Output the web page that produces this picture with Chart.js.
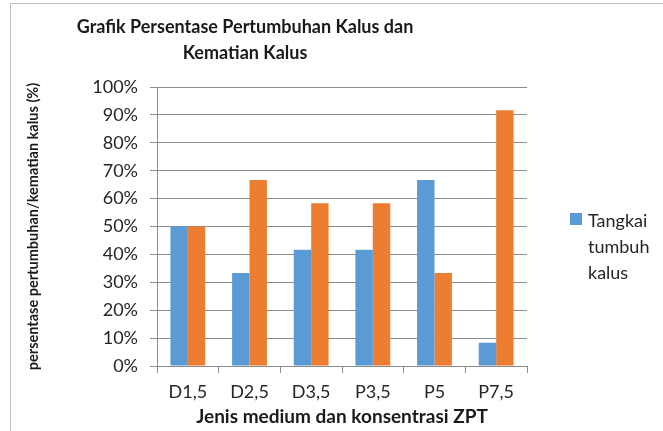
<!DOCTYPE html>
<html>
<head>
<meta charset="utf-8">
<script src="https://cdn.jsdelivr.net/npm/chart.js@4/dist/chart.umd.min.js"></script>
<style>
  html, body { margin: 0; padding: 0; background: #fff; }
  #wrap { position: relative; width: 663px; height: 431px; }
</style>
</head>
<body>
<div id="wrap"><canvas id="chart" width="663" height="431"></canvas></div>
<script>
// Data
const categories = ['D1,5', 'D2,5', 'D3,5', 'P3,5', 'P5', 'P7,5'];
const tumbuh = [50, 33.33, 41.67, 41.67, 66.67, 8.33];
const kematian = [50, 66.67, 58.33, 58.33, 33.33, 91.67];
const titleLines = ['Grafik Persentase Pertumbuhan Kalus dan', 'Kematian Kalus'];
const legendLines = ['Tangkai', 'tumbuh', 'kalus'];

const FONT = 'Lato, "Open Sans", sans-serif';
const GRID = '#8c8c8c';

// Frame, title and the (wrapped) legend entry
const decor = {
  id: 'decor',
  beforeDraw(chart) {
    const c = chart.ctx;
    c.save();
    c.strokeStyle = '#bfbfbf';
    c.lineWidth = 1;
    c.strokeRect(10.5, 3.5, 700, 500);
    c.restore();
  },
  afterDraw(chart) {
    const c = chart.ctx;
    c.save();
    c.fillStyle = '#1a1a1a';
    c.font = 'bold 18px ' + FONT;
    c.textAlign = 'center';
    c.textBaseline = 'alphabetic';
    c.fillText(titleLines[0], 245, 33);
    c.fillText(titleLines[1], 245, 59);

    // legend
    c.fillStyle = chart.data.datasets[0].backgroundColor;
    c.fillRect(570, 213, 12, 12);
    c.fillStyle = '#262626';
    c.font = '18px ' + FONT;
    c.textAlign = 'left';
    legendLines.forEach((t, i) => c.fillText(t, 588, 227 + i * 26));
    c.restore();
  }
};

new Chart(document.getElementById('chart'), {
  type: 'bar',
  data: {
    labels: categories,
    datasets: [
      { label: 'Tangkai tumbuh kalus', data: tumbuh, backgroundColor: '#5B9BD5' },
      { label: 'Kematian kalus', data: kematian, backgroundColor: '#ED7D31' }
    ]
  },
  options: {
    responsive: false,
    animation: false,
    datasets: { bar: { categoryPercentage: 0.565, barPercentage: 1 } },
    layout: { padding: { left: 25, top: 87, right: 136, bottom: 3 } },
    plugins: {
      legend: { display: false },
      title: { display: false },
      tooltip: { enabled: false }
    },
    scales: {
      x: {
        grid: { display: true, offset: true, drawOnChartArea: false, color: GRID, tickLength: 7 },
        border: { color: GRID },
        ticks: { color: '#262626', font: { family: FONT, size: 18 }, padding: 8 },
        title: { display: true, text: 'Jenis medium dan konsentrasi ZPT', color: '#1a1a1a',
                 font: { family: FONT, size: 19, weight: 'bold' }, padding: { top: 0, bottom: 0 } },
        afterFit(s) { s.height = 431 - 366 - 3; }
      },
      y: {
        min: 0, max: 100,
        grid: { color: GRID, tickLength: 7 },
        border: { color: GRID },
        ticks: { stepSize: 10, color: '#262626', font: { family: FONT, size: 18 }, padding: 12,
                 callback: v => v + '%' },
        title: { display: true, text: 'persentase pertumbuhan/kematian kalus (%)', color: '#1a1a1a',
                 font: { family: FONT, size: 14.5, weight: 'bold' }, padding: { top: 0, bottom: 0 } },
        afterFit(s) { s.width = 157 - 25; }
      }
    }
  },
  plugins: [decor]
});
</script>
</body>
</html>
